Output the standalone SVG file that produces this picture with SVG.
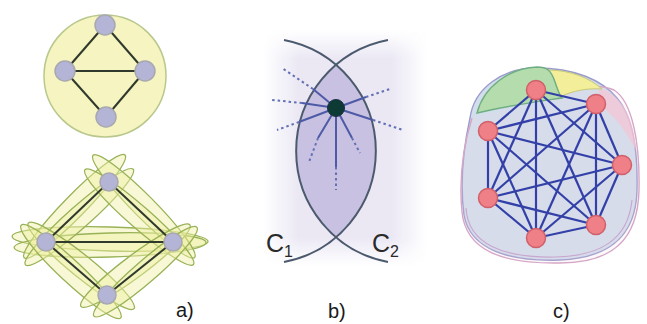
<svg xmlns="http://www.w3.org/2000/svg" width="647" height="324" viewBox="0 0 647 324">
<defs>
<style>
.lbl{font-family:"Liberation Sans",Arial,sans-serif;font-size:20px;fill:#1a1a1a}
.clbl{font-family:"Liberation Sans",Arial,sans-serif;font-size:25px;fill:#2a2a2a}
.sub{font-size:16px}
.aedge{stroke:#2f3a2c;stroke-width:2;fill:none}
.anode{fill:#b4b4d6;stroke:#a8a8b0;stroke-width:1.5}
.hull{fill:#f0f0a4;fill-opacity:0.45;stroke:#98b256;stroke-width:1.3}
.arc{fill:none;stroke:#4c5a6e;stroke-width:2}
.ray{stroke:#4d5aa6;stroke-width:2;fill:none}
.dot{stroke:#6270b4;stroke-width:2;fill:none;stroke-dasharray:2.5 3}
.cedge{stroke:#3340a8;stroke-width:2.2;fill:none}
.cnode{fill:#f08088;stroke:#d0606a;stroke-width:1.5}
</style>
<linearGradient id="bgH" x1="0" y1="0" x2="1" y2="0">
<stop offset="0" stop-color="#ebe8f4" stop-opacity="0"/>
<stop offset="0.22" stop-color="#ebe8f4" stop-opacity="1"/>
<stop offset="0.78" stop-color="#ebe8f4" stop-opacity="1"/>
<stop offset="1" stop-color="#ebe8f4" stop-opacity="0"/>
</linearGradient>
<linearGradient id="fadeV" x1="0" y1="0" x2="0" y2="1">
<stop offset="0" stop-color="#fff" stop-opacity="0"/>
<stop offset="0.12" stop-color="#fff" stop-opacity="1"/>
<stop offset="0.88" stop-color="#fff" stop-opacity="1"/>
<stop offset="1" stop-color="#fff" stop-opacity="0"/>
</linearGradient>
<mask id="vmask" maskUnits="userSpaceOnUse" x="0" y="0" width="647" height="324">
<rect x="262" y="30" width="166" height="236" fill="url(#fadeV)"/>
</mask>
<clipPath id="lens">
<circle cx="263" cy="151" r="113"/>
</clipPath>
</defs>
<rect width="647" height="324" fill="#ffffff"/>

<!-- Panel a, top -->
<g id="a-top">
<circle cx="105" cy="76" r="61" fill="#f6f4c0" stroke="#b8c88c" stroke-width="1.5"/>
<g class="connectors">
<line class="aedge" x1="105" y1="25" x2="65" y2="71"/>
<line class="aedge" x1="105" y1="25" x2="145" y2="71"/>
<line class="aedge" x1="65" y1="71" x2="145" y2="71"/>
<line class="aedge" x1="65" y1="71" x2="106" y2="117"/>
<line class="aedge" x1="145" y1="71" x2="106" y2="117"/>
</g>
<circle id="a1" class="anode" cx="105" cy="25" r="10"/>
<circle id="a2" class="anode" cx="65" cy="71" r="10"/>
<circle id="a3" class="anode" cx="145" cy="71" r="10"/>
<circle id="a4" class="anode" cx="106" cy="117" r="10"/>
</g>

<!-- Panel a, bottom -->
<g id="a-bottom">
<g id="hulls">
<g transform="translate(110 242)">
<ellipse class="hull" cx="0" cy="-3" rx="98" ry="12" transform="rotate(1.5)"/>
<ellipse class="hull" cx="0" cy="3" rx="96" ry="12" transform="rotate(-1.5)"/>
</g>
<g transform="translate(77.5 212) rotate(-43.6)">
<ellipse class="hull" cx="2" cy="-6" rx="72" ry="11" transform="rotate(-2)"/>
<ellipse class="hull" cx="-2" cy="5" rx="72" ry="11" transform="rotate(2)"/>
</g>
<g transform="translate(141 212) rotate(43.2)">
<ellipse class="hull" cx="-2" cy="-6" rx="72" ry="11" transform="rotate(2)"/>
<ellipse class="hull" cx="2" cy="5" rx="72" ry="11" transform="rotate(-2)"/>
</g>
<g transform="translate(76.5 268.5) rotate(41)">
<ellipse class="hull" cx="2" cy="-5" rx="68" ry="11" transform="rotate(-2)"/>
<ellipse class="hull" cx="-2" cy="6" rx="68" ry="11" transform="rotate(2)"/>
</g>
<g transform="translate(140 268.5) rotate(-38.8)">
<ellipse class="hull" cx="-2" cy="-5" rx="68" ry="11" transform="rotate(2)"/>
<ellipse class="hull" cx="2" cy="6" rx="68" ry="11" transform="rotate(-2)"/>
</g>
</g>
<g class="connectors">
<line class="aedge" x1="109" y1="182" x2="46" y2="242"/>
<line class="aedge" x1="109" y1="182" x2="173" y2="242"/>
<line class="aedge" x1="46" y1="242" x2="173" y2="242"/>
<line class="aedge" x1="46" y1="242" x2="107" y2="295"/>
<line class="aedge" x1="173" y1="242" x2="107" y2="295"/>
</g>
<circle id="b1" class="anode" cx="109" cy="182" r="9"/>
<circle id="b2" class="anode" cx="46" cy="242" r="9"/>
<circle id="b3" class="anode" cx="173" cy="242" r="9"/>
<circle id="b4" class="anode" cx="107" cy="295" r="9"/>
</g>
<text class="lbl" x="176" y="317">a)</text>

<!-- Panel b -->
<g id="b-panel">
<rect x="262" y="30" width="166" height="236" fill="url(#bgH)" mask="url(#vmask)"/>
<circle cx="409" cy="151" r="113" fill="#c9c1e2" clip-path="url(#lens)"/>
<path class="arc" d="M284 40 A113 113 0 0 1 284 262"/>
<path class="arc" d="M388 40 A113 113 0 0 0 388 262"/>
<g class="connectors">
<line class="ray" x1="336" y1="108" x2="313" y2="89"/>
<line class="dot" x1="313" y1="89" x2="282" y2="68"/>
<line class="ray" x1="336" y1="108" x2="302" y2="103"/>
<line class="dot" x1="302" y1="103" x2="272" y2="100"/>
<line class="ray" x1="336" y1="108" x2="299" y2="122"/>
<line class="dot" x1="299" y1="122" x2="277" y2="130"/>
<line class="ray" x1="336" y1="108" x2="366" y2="97"/>
<line class="dot" x1="366" y1="97" x2="390" y2="89"/>
<line class="ray" x1="336" y1="108" x2="373" y2="120"/>
<line class="dot" x1="373" y1="120" x2="403" y2="130"/>
<line class="ray" x1="336" y1="108" x2="318" y2="138"/>
<line class="dot" x1="318" y1="138" x2="309" y2="162"/>
<line class="ray" x1="336" y1="108" x2="336" y2="167"/>
<line class="dot" x1="336" y1="167" x2="336" y2="190"/>
<line class="ray" x1="336" y1="108" x2="352" y2="138"/>
<line class="dot" x1="352" y1="138" x2="360" y2="153"/>
</g>
<circle id="hub" cx="336" cy="108" r="8.5" fill="#0e3a36" stroke="#1a2e40" stroke-width="1"/>
<text class="clbl" x="266" y="252">C<tspan class="sub" dy="5">1</tspan></text>
<text class="clbl" x="372" y="252">C<tspan class="sub" dy="5">2</tspan></text>
</g>
<text class="lbl" x="328" y="318">b)</text>

<!-- Panel c -->
<g id="c-panel">
<path d="M470 118 C474 88 503 68 536 68 C575 68 602 80 617 98 C634 118 638 152 637 190 C636 236 610 258 560 260 C510 262 470 250 464 215 C460 185 463 150 470 118 Z" fill="#d3deed" stroke="#9a9ccc" stroke-width="1.4"/>
<path d="M560 97 C576 87 598 83 614 90 C633 102 640 145 639 190 C638 240 612 263 560 263 C505 264 466 252 462 212 C459 180 462 150 472 118" fill="#f4d2df" fill-opacity="0.15" stroke="#d6a6c6" stroke-width="1.4"/>
<path d="M466 208 C468 245 505 258 555 257 C600 256 628 240 632 200" fill="none" stroke="#c8a8d0" stroke-width="1.2"/>
<path d="M600 88 C622 96 634 118 636 150 C630 140 624 128 614 118 C606 110 600 104 596 100 Z" fill="#f4c6d4" fill-opacity="0.75"/>
<path d="M548 70 C570 70 590 78 602 89 C586 88 572 91 560 97 C557 88 554 76 548 70 Z" fill="#f2ee9a" stroke="#c8c878" stroke-width="1"/>
<path d="M477 113 C484 86 510 68 537 67 C547 67 551 70 555 82 C558 91 560 96 562 98 C535 102 505 106 477 113 Z" fill="#b4dcac" stroke="#6fae82" stroke-width="1.4"/>
<g class="connectors">
<line class="cedge" x1="536" y1="90" x2="596" y2="104"/>
<line class="cedge" x1="536" y1="90" x2="488" y2="131"/>
<line class="cedge" x1="536" y1="90" x2="622" y2="165"/>
<line class="cedge" x1="536" y1="90" x2="488" y2="198"/>
<line class="cedge" x1="536" y1="90" x2="596" y2="225"/>
<line class="cedge" x1="536" y1="90" x2="536" y2="238"/>
<line class="cedge" x1="596" y1="104" x2="488" y2="131"/>
<line class="cedge" x1="596" y1="104" x2="622" y2="165"/>
<line class="cedge" x1="596" y1="104" x2="488" y2="198"/>
<line class="cedge" x1="596" y1="104" x2="596" y2="225"/>
<line class="cedge" x1="596" y1="104" x2="536" y2="238"/>
<line class="cedge" x1="488" y1="131" x2="622" y2="165"/>
<line class="cedge" x1="488" y1="131" x2="488" y2="198"/>
<line class="cedge" x1="488" y1="131" x2="596" y2="225"/>
<line class="cedge" x1="488" y1="131" x2="536" y2="238"/>
<line class="cedge" x1="622" y1="165" x2="488" y2="198"/>
<line class="cedge" x1="622" y1="165" x2="596" y2="225"/>
<line class="cedge" x1="622" y1="165" x2="536" y2="238"/>
<line class="cedge" x1="488" y1="198" x2="596" y2="225"/>
<line class="cedge" x1="488" y1="198" x2="536" y2="238"/>
<line class="cedge" x1="596" y1="225" x2="536" y2="238"/>
</g>
<circle id="c0" class="cnode" cx="536" cy="90" r="9.5"/>
<circle id="c1" class="cnode" cx="596" cy="104" r="9.5"/>
<circle id="c2" class="cnode" cx="488" cy="131" r="9.5"/>
<circle id="c3" class="cnode" cx="622" cy="165" r="9.5"/>
<circle id="c4" class="cnode" cx="488" cy="198" r="9.5"/>
<circle id="c5" class="cnode" cx="596" cy="225" r="9.5"/>
<circle id="c6" class="cnode" cx="536" cy="238" r="9.5"/>
</g>
<text class="lbl" x="553" y="318">c)</text>
</svg>
